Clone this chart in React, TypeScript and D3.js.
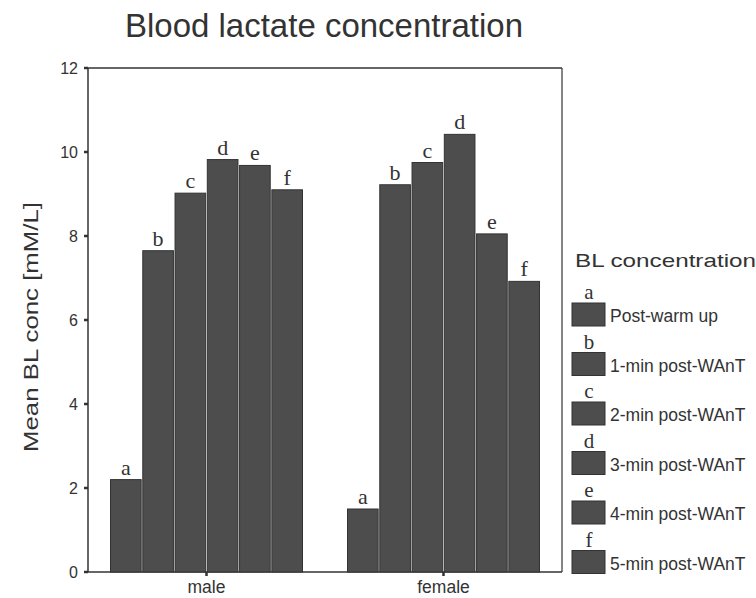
import React from "react";
import * as d3 from "d3";

const groups = ["male", "female"];
const seriesKeys = ["a", "b", "c", "d", "e", "f"];
const seriesNames = [
  "Post-warm up",
  "1-min post-WAnT",
  "2-min post-WAnT",
  "3-min post-WAnT",
  "4-min post-WAnT",
  "5-min post-WAnT",
];
const maleValues = [2.2, 7.65, 9.02, 9.82, 9.68, 9.1];
const femaleValues = [1.5, 9.22, 9.75, 10.42, 8.05, 6.92];
const yTicks = [0, 2, 4, 6, 8, 10, 12];

const W = 756;
const H = 598;
const left = 88;
const right = 562;
const top = 68;
const bottom = 572;
const barFill = "#4d4d4d";
const sans = "Liberation Sans, Arial, sans-serif";
const serif = "Liberation Serif, Times New Roman, serif";

export default function App() {
  const y = d3.scaleLinear().domain([0, 12]).range([bottom, top]);
  const x0 = d3.scaleBand().domain(groups).range([left, right]).paddingInner(0.19).paddingOuter(0.095);
  const x1 = d3.scaleBand().domain(seriesKeys).range([0, x0.bandwidth()]).paddingInner(0.05);
  const data = [maleValues, femaleValues];

  return (
    <svg width={W} height={H} style={{ position: "absolute", left: 0, top: 0, background: "#fff" }}>
      <text x={324} y={37} textAnchor="middle" fontFamily={sans} fontSize={33} fill="#333">
        Blood lactate concentration
      </text>
      {/* frame */}
      <line x1={left} x2={right} y1={top} y2={top} stroke="#333" strokeWidth={1.5} />
      <line x1={right} x2={right} y1={top} y2={bottom} stroke="#333" strokeWidth={1.2} />
      <line x1={left} x2={left} y1={top} y2={bottom} stroke="#333" strokeWidth={1.5} />
      <line x1={left - 4} x2={right} y1={bottom} y2={bottom} stroke="#333" strokeWidth={1.5} />
      {yTicks.map((t) => (
        <g key={t}>
          <line x1={left - 4} x2={left} y1={y(t)} y2={y(t)} stroke="#333" strokeWidth={2.5} />
          <text x={left - 10} y={y(t) + 5.5} textAnchor="end" fontFamily={sans} fontSize={16} fill="#333">
            {t}
          </text>
        </g>
      ))}
      <text
        transform={`translate(38,327) rotate(-90)`}
        textAnchor="middle"
        fontFamily={sans}
        fontSize={21}
        textLength={250}
        lengthAdjust="spacingAndGlyphs"
        fill="#333"
      >
        Mean BL conc [mM/L]
      </text>
      {groups.map((g, gi) => {
        const gx = x0(g) as number;
        const cx = gx + x0.bandwidth() / 2;
        return (
          <g key={g}>
            <line x1={cx} x2={cx} y1={bottom} y2={bottom + 4} stroke="#333" strokeWidth={2.5} />
            <text x={cx} y={bottom + 21} textAnchor="middle" fontFamily={sans} fontSize={17.5} fill="#333">
              {g}
            </text>
            {data[gi].map((v, i) => {
              const bx = gx + (x1(seriesKeys[i]) as number);
              return (
                <g key={i}>
                  <rect
                    x={bx}
                    y={y(v)}
                    width={x1.bandwidth()}
                    height={bottom - y(v)}
                    fill={barFill}
                    stroke="#333"
                    strokeWidth={1}
                  />
                  <text
                    x={bx + x1.bandwidth() / 2}
                    y={y(v) - 5}
                    textAnchor="middle"
                    fontFamily={serif}
                    fontSize={22}
                    fill="#333"
                  >
                    {seriesKeys[i]}
                  </text>
                </g>
              );
            })}
          </g>
        );
      })}
      {/* legend */}
      <text
        x={575}
        y={267}
        fontFamily={sans}
        fontSize={19}
        textLength={181}
        lengthAdjust="spacingAndGlyphs"
        fill="#333"
      >
        BL concentration
      </text>
      {seriesKeys.map((k, i) => {
        const ly = 303 + i * 49.5;
        return (
          <g key={k}>
            <text x={589} y={ly - 4} textAnchor="middle" fontFamily={serif} fontSize={21} fill="#333">
              {k}
            </text>
            <rect x={572} y={ly} width={33} height={23} fill={barFill} stroke="#333" strokeWidth={1} />
            <text x={610} y={ly + 19} fontFamily={sans} fontSize={17.5} fill="#333">
              {seriesNames[i]}
            </text>
          </g>
        );
      })}
    </svg>
  );
}
